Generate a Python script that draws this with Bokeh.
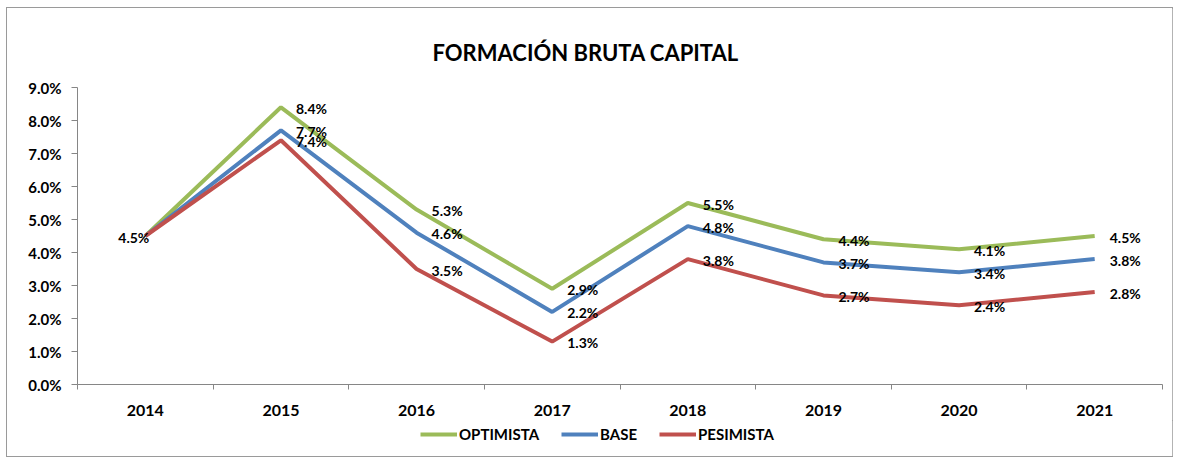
from bokeh.plotting import figure
from bokeh.layouts import column
from bokeh.models import (FixedTicker, NumeralTickFormatter, Legend, LegendItem,
                          Range1d, ColumnDataSource, Title)
from bokeh.embed import file_html
from bokeh.resources import INLINE
from bokeh.core.properties import value

# ---- data ----
years = ["2014", "2015", "2016", "2017", "2018", "2019", "2020", "2021"]
optimista = [4.5, 8.4, 5.3, 2.9, 5.5, 4.4, 4.1, 4.5]
base = [4.5, 7.7, 4.6, 2.2, 4.8, 3.7, 3.4, 3.8]
pesimista = [4.5, 7.4, 3.5, 1.3, 3.8, 2.7, 2.4, 2.8]
series_names = ["OPTIMISTA", "BASE", "PESIMISTA"]
series_values = [optimista, base, pesimista]
colors = ["#9BBB59", "#4F81BD", "#C0504D"]
y_ticks = [0, 1, 2, 3, 4, 5, 6, 7, 8, 9]
title_text = "FORMACIÓN BRUTA CAPITAL"

FONT = "Lato"
n = len(years)
xc = [i + 0.5 for i in range(n)]

p = figure(frame_width=1087, frame_height=297,
           min_border_left=70, min_border_right=10,
           min_border_top=79, min_border_bottom=36,
           x_range=Range1d(0, n), y_range=Range1d(0, max(y_ticks) / 100),
           output_backend="svg", toolbar_location=None)

t = Title(text=title_text, align="left", offset=355, text_font=FONT,
          text_font_size="22px", text_font_style="bold", text_color="#000000",
          standoff=43)
p.add_layout(t, "above")

p.xgrid.visible = False
p.ygrid.visible = False
p.outline_line_color = None

# x axis: labels at category centers, ticks at category boundaries
p.xaxis.ticker = FixedTicker(ticks=xc, minor_ticks=list(range(n + 1)))
p.xaxis.major_label_overrides = {x: y for x, y in zip(xc, years)}
p.xaxis.major_tick_out = 0
p.xaxis.major_tick_in = 0
p.xaxis.minor_tick_out = 5
p.xaxis.minor_tick_in = 0
p.xaxis.minor_tick_line_color = "#868686"
p.xaxis.axis_line_color = "#868686"
p.xaxis.major_label_standoff = 15
p.xaxis.major_label_text_font = FONT
p.xaxis.major_label_text_font_style = "bold"
p.xaxis.major_label_text_font_size = "16px"
p.xaxis.major_label_text_color = "#000000"

# y axis
p.yaxis.ticker = FixedTicker(ticks=[v / 100 for v in y_ticks], minor_ticks=[])
p.yaxis.formatter = NumeralTickFormatter(format="0.0%")
p.yaxis.major_tick_out = 6
p.yaxis.major_tick_in = 0
p.yaxis.major_tick_line_color = "#868686"
p.yaxis.axis_line_color = "#868686"
p.yaxis.major_label_standoff = 10
p.yaxis.major_label_text_font = FONT
p.yaxis.major_label_text_font_style = "bold"
p.yaxis.major_label_text_font_size = "15px"
p.yaxis.major_label_text_color = "#000000"

for name, vals, col in zip(series_names, series_values, colors):
    src = ColumnDataSource(dict(x=xc, y=[v / 100 for v in vals]))
    p.line("x", "y", source=src, line_color=col, line_width=4)

# data labels
for name, vals in zip(series_names, series_values):
    src = ColumnDataSource(dict(x=xc[1:], y=[v / 100 for v in vals[1:]],
                                lab=[f"{v:.1f}%" for v in vals[1:]]))
    p.text("x", "y", text="lab", source=src, x_offset=15, y_offset=1,
           text_baseline="middle", text_align="left",
           text_font=value(FONT), text_font_style="bold",
           text_font_size="14px", text_color="#000000")
# first-year label (all series share the same value)
src0 = ColumnDataSource(dict(x=xc[:1], y=[optimista[0] / 100],
                             lab=[f"{optimista[0]:.1f}%"]))
p.text("x", "y", text="lab", source=src0, x_offset=4, y_offset=1,
       text_baseline="middle", text_align="right",
       text_font=value(FONT), text_font_style="bold",
       text_font_size="14px", text_color="#000000")

# ---- legend strip below the chart ----
# the series are drawn again here only to feed the legend; the y range keeps
# them out of view so that only the legend entries are visible
lf = figure(frame_width=1087, frame_height=36,
            min_border_left=70, min_border_right=10,
            min_border_top=0, min_border_bottom=0,
            x_range=Range1d(0, n), y_range=Range1d(100, 101),
            x_axis_location=None, y_axis_location=None,
            output_backend="svg", toolbar_location=None)
lf.xgrid.visible = False
lf.ygrid.visible = False
lf.outline_line_color = None
items = []
for name, vals, col in zip(series_names, series_values, colors):
    r = lf.line(x=xc, y=vals, line_color=col, line_width=4)
    items.append(LegendItem(label=name, renderers=[r]))
legend = Legend(items=items, orientation="horizontal", location=(343, 13),
                label_text_font=FONT, label_text_font_style="bold",
                label_text_font_size="15px", label_text_color="#000000",
                glyph_width=37, glyph_height=14, spacing=22, label_standoff=2,
                border_line_color=None, background_fill_alpha=0,
                padding=0, margin=0)
lf.add_layout(legend, "center")

layout = column(p, lf, spacing=0)
layout.styles = {"border": "1px solid #9a9a9a", "margin-left": "6px",
                 "margin-top": "7px", "width": "1167px"}

open("out.html", "w").write(file_html(layout, INLINE))
